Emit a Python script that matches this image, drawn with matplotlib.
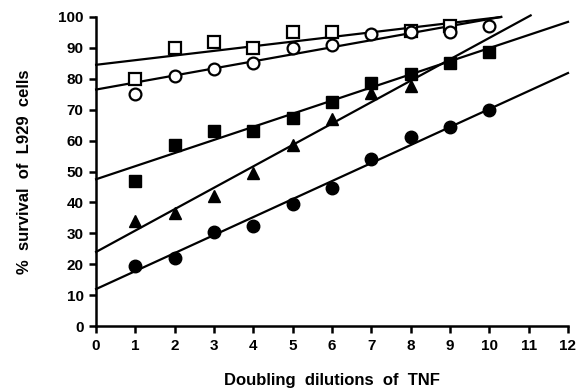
import matplotlib
matplotlib.use("Agg")
import matplotlib.pyplot as plt
import numpy as np

plt.rcParams['font.family'] = ['Liberation Sans', 'DejaVu Sans']
plt.rcParams['font.weight'] = 'bold'

# dilutions and % survival
x_open_sq = [1, 2, 3, 4, 5, 6, 8, 9]
y_open_sq = [80, 90, 92, 90, 95, 95, 95.5, 97]

x_open_ci = [1, 2, 3, 4, 5, 6, 7, 8, 9, 10]
y_open_ci = [75, 81, 83, 85, 90, 91, 94.5, 95, 95, 97.2]

x_fill_sq = [1, 2, 3, 4, 5, 6, 7, 8, 9, 10]
y_fill_sq = [47, 58.5, 63, 63, 67.3, 72.5, 78.5, 81.5, 85, 88.7]

x_tri = [1, 2, 3, 4, 5, 6, 7, 8]
y_tri = [34, 36.5, 42, 49.5, 58.5, 67, 75.5, 77.7]

x_fill_ci = [1, 2, 3, 4, 5, 6, 7, 8, 9, 10]
y_fill_ci = [19.5, 22, 30.5, 32.5, 39.5, 44.8, 54, 61, 64.5, 70]

# regression lines: intercept, slope, last x
fit_intercept = [84.5, 76.5, 47.5, 24, 12]
fit_slope = [1.5, 2.28, 4.24, 6.92, 5.82]
fit_xend = [10.3, 10.3, 12, 11.05, 12]

fig = plt.figure(figsize=(5.79, 3.92), dpi=100)
ax = fig.add_axes([0.166, 0.168, 0.815, 0.789])

for b, m, xe in zip(fit_intercept, fit_slope, fit_xend):
    xs = np.array([0, xe])
    ax.plot(xs, b + m * xs, color='black', lw=1.6, clip_on=False, zorder=2)

ms = 8.5
ax.plot(x_open_sq, y_open_sq, 's', ms=ms, mfc='white', mec='black', mew=1.6, clip_on=False, zorder=3)
ax.plot(x_open_ci, y_open_ci, 'o', ms=ms, mfc='white', mec='black', mew=1.6, clip_on=False, zorder=3)
ax.plot(x_fill_sq, y_fill_sq, 's', ms=ms, color='black', clip_on=False, zorder=3)
ax.plot(x_tri, y_tri, '^', ms=ms + 0.5, color='black', clip_on=False, zorder=3)
ax.plot(x_fill_ci, y_fill_ci, 'o', ms=ms + 0.5, color='black', clip_on=False, zorder=3)

ax.set_xlim(0, 12)
ax.set_ylim(0, 100)
ax.set_xticks(range(0, 13))
ax.set_yticks(range(0, 101, 10))
for s in ['top', 'right']:
    ax.spines[s].set_visible(False)
for s in ['left', 'bottom']:
    ax.spines[s].set_linewidth(1.8)
ax.tick_params(direction='out', length=5, width=1.8, labelsize=11, pad=4)
for lab in ax.get_xticklabels() + ax.get_yticklabels():
    lab.set_fontweight('bold')

ax.set_xlabel('Doubling  dilutions  of  TNF', fontsize=12, fontweight='bold', labelpad=15)
ax.set_ylabel('%  survival  of  L929  cells', fontsize=12, fontweight='bold', labelpad=19)

fig.savefig('out.png', dpi=100)
